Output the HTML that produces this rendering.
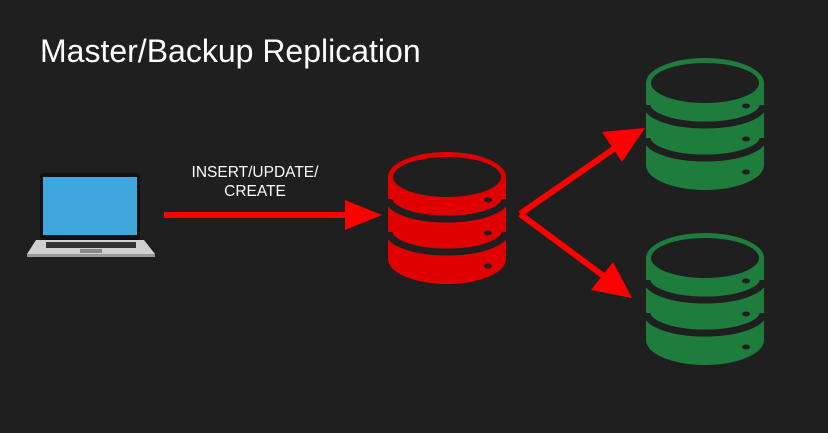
<!DOCTYPE html>
<html><head><style>
body{margin:0;background:#1f1f1f;width:828px;height:428px;overflow:hidden;font-family:"Liberation Sans",sans-serif;}
</style></head><body>
<svg width="828" height="428" viewBox="0 0 828 428" xmlns="http://www.w3.org/2000/svg">
<defs>
<g id="db">
  <rect x="0" y="25" width="118" height="82"/>
  <ellipse cx="59" cy="25" rx="59" ry="25"/>
  <ellipse cx="59" cy="107" rx="59" ry="25"/>
  <ellipse cx="59" cy="25" rx="54" ry="20" fill="#1f1f1f"/>
  <path d="M1,47 A58,20 0 0 0 117,47" fill="none" stroke="#1f1f1f" stroke-width="7"/>
  <path d="M1,80 A58,20 0 0 0 117,80" fill="none" stroke="#1f1f1f" stroke-width="7"/>
  <ellipse cx="100" cy="48" rx="4" ry="2.5" fill="#1f1f1f"/>
  <ellipse cx="100" cy="81" rx="4" ry="2.5" fill="#1f1f1f"/>
  <ellipse cx="100" cy="114" rx="4" ry="2.5" fill="#1f1f1f"/>
</g>
</defs>
<text x="40" y="62" fill="#fff" font-size="32" font-family="Liberation Sans, sans-serif">Master/Backup Replication</text>
<text x="255" y="177" fill="#fff" font-size="15.5" text-anchor="middle">INSERT/UPDATE/</text>
<text x="255" y="196" fill="#fff" font-size="15.5" text-anchor="middle">CREATE</text>
<!-- laptop -->
<rect x="40" y="173" width="100" height="67" rx="3" fill="#111"/>
<rect x="43" y="177" width="94" height="58" fill="#3fa7dd"/>
<polygon points="36,240 144,240 155,254 27,254" fill="#d0d0d0"/>
<rect x="27" y="254" width="128" height="3" fill="#999"/>
<rect x="46" y="242" width="90" height="6" fill="#333"/>
<rect x="80" y="249" width="22" height="4" fill="#888"/>
<!-- arrows -->
<g fill="#ff0000" stroke="#ff0000">
  <line x1="164" y1="215" x2="350" y2="215" stroke-width="6"/>
  <polygon points="345,200 382,215 345,230" stroke="none"/>
  <line x1="520" y1="214" x2="615" y2="148" stroke-width="6"/>
  <polygon points="602,132 645,128 622,162" stroke="none"/>
  <line x1="520" y1="214" x2="605" y2="277" stroke-width="6"/>
  <polygon points="613,262 632,298 591,290" stroke="none"/>
</g>
<use href="#db" x="388" y="152" fill="#e10000"/>
<use href="#db" x="646" y="58" fill="#1e7d3c"/>
<use href="#db" x="646" y="233" fill="#1e7d3c"/>
</svg>
</body></html>
